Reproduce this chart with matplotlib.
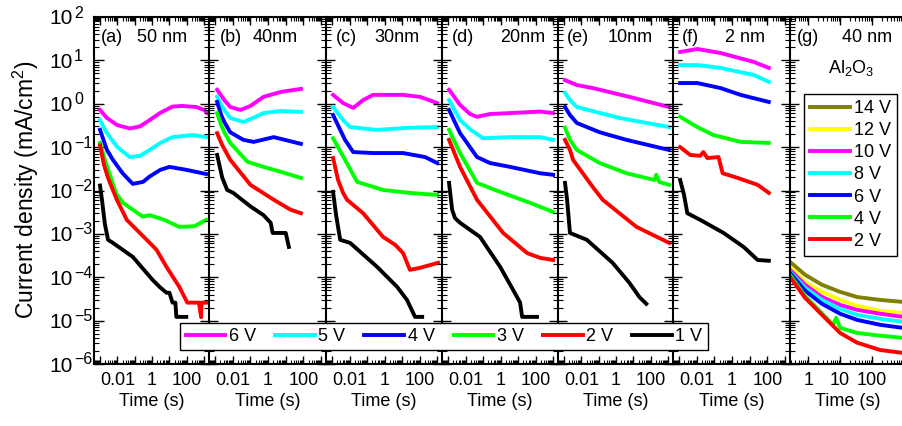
import numpy as np
import matplotlib
matplotlib.use("Agg")
import matplotlib.pyplot as plt
from matplotlib.ticker import LogLocator, NullFormatter, FixedLocator
from matplotlib.transforms import blended_transform_factory, offset_copy

plt.rcParams['font.family'] = ['Liberation Sans', 'DejaVu Sans']
plt.rcParams['mathtext.fontset'] = 'custom'
plt.rcParams['mathtext.rm'] = 'Liberation Sans'
plt.rcParams['mathtext.default'] = 'regular'

# ---- data: time (s) and current density (mA/cm2) ----
# (a) 50 nm
a6_t = [1e-3, 2.5e-3, 0.01, 0.052, 0.2, 0.72, 3, 15, 50, 350, 1000, 1500]
a6_j = [0.72, 0.47, 0.32, 0.27, 0.30, 0.42, 0.62, 0.86, 0.89, 0.84, 0.72, 0.61]
a5_t = [1e-3, 2.5e-3, 0.01, 0.052, 0.2, 0.72, 3, 15, 200, 1500]
a5_j = [0.42, 0.21, 0.10, 0.059, 0.063, 0.086, 0.125, 0.17, 0.19, 0.17]
a4_t = [1e-3, 2.5e-3, 5.5e-3, 0.02, 0.077, 0.3, 0.72, 3, 10, 93, 1300]
a4_j = [0.25, 0.086, 0.051, 0.025, 0.0142, 0.0158, 0.021, 0.03, 0.035, 0.03, 0.024]
a3_t = [1e-3, 1.9e-3, 3.7e-3, 8.2e-3, 0.021, 0.29, 0.72, 5.2, 37, 270, 1300]
a3_j = [0.125, 0.051, 0.023, 0.0088, 0.0052, 0.0025, 0.0027, 0.0021, 0.00145, 0.0015, 0.0021]
a2_t = [1e-3, 1.7e-3, 2.9e-3, 5.5e-3, 9.4e-3, 0.035, 0.13, 0.49, 1.8, 6.7, 37, 107,
        500, 670, 700, 880, 1500]
a2_j = [0.11, 0.039, 0.0195, 0.0103, 0.0061, 0.0021, 0.00124, 7.3e-4, 4.3e-4, 1.74e-4,
        6e-5, 2.6e-5, 2.6e-5, 1.2e-5, 2.6e-5, 2.6e-5, 2.6e-5]
a1_t = [1e-3, 1.3e-3, 1.9e-3, 2.9e-3, 5.5e-3, 0.077, 1.07, 2.7, 6.7, 10, 15, 22, 25, 93]
a1_j = [0.013, 0.006, 0.0017, 7.3e-4, 6.2e-4, 2.95e-4, 8.7e-5, 6e-5, 4.4e-5, 4.4e-5,
        2.6e-5, 2.6e-5, 1.22e-5, 1.22e-5]

# (b) 40 nm
b6_t = [1.3e-3, 2.2e-3, 3.3e-3, 7.2e-3, 0.027, 0.1, 0.55, 5.2, 72]
b6_j = [2.1, 1.55, 1.22, 0.84, 0.72, 0.89, 1.44, 1.87, 2.2]
b5_t = [1.3e-3, 2.2e-3, 3.3e-3, 7.2e-3, 0.04, 0.2, 0.55, 5.2, 72]
b5_j = [1.44, 0.95, 0.72, 0.47, 0.38, 0.5, 0.61, 0.68, 0.65]
b4_t = [1.3e-3, 2.2e-3, 3.3e-3, 7.2e-3, 0.04, 0.15, 2.1, 72]
b4_j = [1.1, 0.55, 0.38, 0.22, 0.147, 0.132, 0.17, 0.119]
b3_t = [1.3e-3, 2.2e-3, 3.3e-3, 7.2e-3, 0.067, 0.55, 5.2, 72]
b3_j = [0.61, 0.32, 0.22, 0.125, 0.046, 0.035, 0.027, 0.0195]
b2_t = [1.3e-3, 2.5e-3, 7.2e-3, 0.1, 2.1, 19, 72]
b2_j = [0.21, 0.112, 0.051, 0.0135, 0.0061, 0.0036, 0.003]
b1_t = [1.3e-3, 2.5e-3, 4.8e-3, 0.0107, 0.1, 0.55, 1.4, 1.8, 10, 15]
b1_j = [0.066, 0.02, 0.0103, 0.0088, 0.0043, 0.0027, 0.0018, 0.00105, 0.00105, 5e-4]

# (c) 30 nm
c6_t = [1.14e-3, 4.25e-3, 0.016, 0.06, 0.22, 11.4, 107, 1000]
c6_j = [1.6, 1.04, 0.80, 1.22, 1.6, 1.6, 1.44, 1.04]
c5_t = [1.14e-3, 4.25e-3, 0.0107, 0.37, 28, 1000]
c5_j = [0.84, 0.42, 0.29, 0.25, 0.28, 0.29]
c4_t = [1.14e-3, 5.5e-3, 0.016, 0.22, 11.4, 207, 1000]
c4_j = [0.55, 0.147, 0.077, 0.073, 0.073, 0.059, 0.043]
c3_t = [1.14e-3, 5.5e-3, 0.027, 0.82, 28, 1000]
c3_j = [0.16, 0.051, 0.0158, 0.0103, 0.0088, 0.0079]
c2_t = [1.14e-3, 2.2e-3, 4.25e-3, 7.2e-3, 0.059, 0.82, 4, 11.4, 28, 107, 1140]
c2_j = [0.056, 0.0175, 0.0088, 0.0061, 0.003, 8.5e-4, 5.6e-4, 3.6e-4, 1.48e-4, 1.65e-4, 2.15e-4]
c1_t = [1.14e-3, 1.7e-3, 2.9e-3, 0.0107, 0.37, 5.2, 19, 55, 140]
c1_j = [0.0093, 0.0027, 7.3e-4, 6.2e-4, 1.74e-4, 6e-5, 3e-5, 1.22e-5, 1.22e-5]

# (d) 20 nm
d6_t = [1.14e-3, 4.85e-3, 0.018, 0.045, 0.25, 3.5, 180, 1000]
d6_j = [2.1, 0.94, 0.58, 0.5, 0.58, 0.61, 0.66, 0.61]
d5_t = [1.14e-3, 4.85e-3, 0.02, 0.1, 3.5, 180, 1000]
d5_j = [1.22, 0.42, 0.25, 0.16, 0.17, 0.17, 0.147]
d4_t = [1.14e-3, 4.85e-3, 0.045, 0.25, 3.5, 180, 1000]
d4_j = [0.72, 0.21, 0.059, 0.043, 0.035, 0.025, 0.023]
d3_t = [1.14e-3, 4.85e-3, 0.045, 0.94, 48, 1000]
d3_j = [0.25, 0.073, 0.015, 0.0093, 0.0052, 0.0032]
d2_t = [1.14e-3, 4.85e-3, 0.045, 1.4, 33, 180, 1000]
d2_j = [0.147, 0.035, 0.0061, 0.00105, 3.6e-4, 2.8e-4, 2.5e-4]
d1_t = [1.14e-3, 1.7e-3, 2.5e-3, 4.85e-3, 0.067, 0.94, 5.2, 13, 17, 120]
d1_j = [0.015, 0.0036, 0.0023, 0.0018, 8.5e-4, 1.74e-4, 5.1e-5, 2.6e-5, 1.22e-5, 1.22e-5]

# (e) 10 nm
e6_t = [1.14e-3, 5.5e-3, 0.045, 5.9, 1140]
e6_j = [3.5, 2.7, 2.3, 1.44, 0.84]
e5_t = [1.14e-3, 2.2e-3, 5.5e-3, 1.58, 1140]
e5_j = [1.77, 1.22, 0.84, 0.47, 0.29]
e4_t = [1.14e-3, 2.2e-3, 5.5e-3, 0.114, 3.96, 1140]
e4_j = [0.84, 0.55, 0.36, 0.22, 0.147, 0.086]
e3_t = [1.14e-3, 2.2e-3, 5.5e-3, 0.114, 3.96, 160, 207, 305, 1140]
e3_j = [0.28, 0.147, 0.086, 0.043, 0.025, 0.0175, 0.023, 0.0158, 0.0135]
e2_t = [1.14e-3, 2.2e-3, 3.3e-3, 0.045, 0.17, 15, 1140]
e2_j = [0.147, 0.086, 0.051, 0.0121, 0.0061, 0.00145, 6.2e-4]
e1_t = [1.14e-3, 1.5e-3, 2.2e-3, 0.0206, 0.63, 5.9, 22, 55]
e1_j = [0.015, 0.0061, 0.00105, 7.3e-4, 2.15e-4, 7.4e-5, 3.5e-5, 2.44e-5]

# (f) 2 nm
f6_t = [1.14e-3, 0.0107, 0.22, 17, 120]
f6_j = [15.6, 18.3, 14.8, 9.2, 6.7]
f5_t = [1.14e-3, 0.0107, 0.22, 17, 120]
f5_j = [7.8, 7.8, 6.7, 4.6, 3.2]
f4_t = [1.14e-3, 0.0107, 0.22, 3.06, 120]
f4_j = [3.0, 3.0, 2.3, 1.6, 1.1]
f3_t = [1.14e-3, 0.0107, 0.088, 3.06, 120]
f3_j = [0.5, 0.29, 0.19, 0.132, 0.125]
f2_t = [1.14e-3, 4.25e-3, 0.0158, 0.0235, 0.04, 0.17, 0.29, 2.06, 28, 120]
f2_j = [0.1, 0.066, 0.063, 0.077, 0.056, 0.059, 0.025, 0.0195, 0.0135, 0.0088]
f1_t = [1.14e-3, 1.9e-3, 2.9e-3, 0.0158, 0.33, 4.5, 28, 120]
f1_j = [0.0175, 0.0079, 0.003, 0.0021, 0.00105, 5e-4, 2.5e-4, 2.4e-4]

# (g) 40 nm Al2O3
g_t = [0.27, 0.8, 2.7, 10, 34, 180, 930]
g14_j = [2.26e-4, 1.14e-4, 6.7e-5, 4.6e-5, 3.5e-5, 3.0e-5, 2.7e-5]
g12_j = [1.74e-4, 7.8e-5, 4.6e-5, 3.0e-5, 2.2e-5, 1.68e-5, 1.51e-5]
g10_j = [1.48e-4, 6.7e-5, 3.5e-5, 2.3e-5, 1.77e-5, 1.44e-5, 1.22e-5]
g8_j = [1.33e-4, 5.7e-5, 3.0e-5, 1.87e-5, 1.36e-5, 1.1e-5, 9.4e-6]
g6_j = [1.26e-4, 4.9e-5, 2.44e-5, 1.44e-5, 1.04e-5, 8.0e-6, 6.8e-6]
g4_t = [0.27, 0.8, 2.4, 6, 7.5, 10, 34, 180, 930]
g4_j = [1.14e-4, 3.7e-5, 1.6e-5, 8.0e-6, 1.16e-5, 6.8e-6, 5.2e-6, 4.5e-6, 4.0e-6]
g2_j = [1.02e-4, 3.35e-5, 1.36e-5, 5.2e-6, 3.1e-6, 2.1e-6, 1.8e-6]

volt_labels = ['6 V', '5 V', '4 V', '3 V', '2 V', '1 V']
volt_colors = ['#ff00ff', '#00ffff', '#0000ff', '#00ff00', '#ff0000', '#000000']
g_labels = ['14 V', '12 V', '10 V', '8 V', '6 V', '4 V', '2 V']
g_colors = ['#808000', '#ffff00', '#ff00ff', '#00ffff', '#0000ff', '#00ff00', '#ff0000']

panel_tags = ['(a)', '(b)', '(c)', '(d)', '(e)', '(f)', '(g)']
panel_thick = ['50 nm', '40nm', '30nm', '20nm', '10nm', '2 nm', '40 nm']
y_exponents = [-6, -5, -4, -3, -2, -1, 0, 1, 2]

panel_series = [
    [(a6_t, a6_j), (a5_t, a5_j), (a4_t, a4_j), (a3_t, a3_j), (a2_t, a2_j), (a1_t, a1_j)],
    [(b6_t, b6_j), (b5_t, b5_j), (b4_t, b4_j), (b3_t, b3_j), (b2_t, b2_j), (b1_t, b1_j)],
    [(c6_t, c6_j), (c5_t, c5_j), (c4_t, c4_j), (c3_t, c3_j), (c2_t, c2_j), (c1_t, c1_j)],
    [(d6_t, d6_j), (d5_t, d5_j), (d4_t, d4_j), (d3_t, d3_j), (d2_t, d2_j), (d1_t, d1_j)],
    [(e6_t, e6_j), (e5_t, e5_j), (e4_t, e4_j), (e3_t, e3_j), (e2_t, e2_j), (e1_t, e1_j)],
    [(f6_t, f6_j), (f5_t, f5_j), (f4_t, f4_j), (f3_t, f3_j), (f2_t, f2_j), (f1_t, f1_j)],
]
g_series = [(g_t, g14_j), (g_t, g12_j), (g_t, g10_j), (g_t, g8_j), (g_t, g6_j),
            (g4_t, g4_j), (g_t, g2_j)]

# ---- layout (pixel edges of the panels) ----
W, H = 903, 426
edges = [94, 209, 326, 442, 558, 673, 790, 905]
y_top, y_bot = 17, 364
tag_x = [0.06, 0.094, 0.086, 0.086, 0.078, 0.078, 0.06]
thick_x = [0.809, 0.761, 0.81, 0.888, 0.826, 0.786, 0.885]

fig = plt.figure(figsize=(W / 100, H / 100), dpi=100)
lw = 2.8
axes = []
for i in range(7):
    x0, x1 = edges[i], edges[i + 1]
    ax = fig.add_axes([x0 / W, (H - y_bot) / H, (x1 - x0) / W, (y_bot - y_top) / H])
    ax.set_facecolor('none')
    ax.set_xscale('log')
    ax.set_yscale('log')
    ax.set_ylim(1e-6, 1e2)
    for sp in ax.spines.values():
        sp.set_linewidth(1.5)
    ax.spines['right'].set_visible(False)

    if i < 6:
        ax.set_xlim(4.5e-4, 1900)
        ax.xaxis.set_major_locator(FixedLocator([1e-3, 1e-2, 1e-1, 1, 10, 100, 1000]))
        ax.set_xticklabels(['', '0.01', '', '1', '', '100', ''])
        for (t, j), c in zip(panel_series[i], volt_colors):
            ax.plot(t, j, color=c, lw=lw, solid_joinstyle='round')
    else:
        ax.set_xlim(0.27, 1070)
        ax.xaxis.set_major_locator(FixedLocator([1, 10, 100, 1000]))
        ax.set_xticklabels(['1', '10', '100', ''])
        for (t, j), c, lab in zip(g_series, g_colors, g_labels):
            ax.plot(t, j, color=c, lw=lw, label=lab)
    ax.xaxis.set_minor_locator(LogLocator(base=10, subs=np.arange(2, 10), numticks=100))
    ax.xaxis.set_minor_formatter(NullFormatter())

    ax.set_yticks([10.0 ** k for k in y_exponents])
    ax.yaxis.set_minor_locator(LogLocator(base=10, subs=np.arange(2, 10), numticks=100))
    ax.yaxis.set_minor_formatter(NullFormatter())

    ax.tick_params(axis='x', which='both', direction='in', top=True, bottom=True,
                   labelsize=13, pad=6)
    ax.tick_params(axis='x', which='major', length=6, width=1.0)
    ax.tick_params(axis='x', which='minor', length=3, width=0.8)
    if i == 0:
        ax.tick_params(axis='y', which='both', direction='in', right=False, labelleft=False)
        ax.tick_params(axis='y', which='major', length=7, width=1.0)
        ax.tick_params(axis='y', which='minor', length=3.5, width=0.8)
    else:
        ax.tick_params(axis='y', which='both', direction='inout', right=False, labelleft=False)
        ax.tick_params(axis='y', which='major', length=13, width=1.0)
        ax.tick_params(axis='y', which='minor', length=7, width=0.8)
    ax.set_xlabel('Time (s)', fontsize=13, labelpad=3)

    yt = (y_bot - 38) / (y_bot - y_top)
    ax.text(tag_x[i], yt, panel_tags[i], transform=ax.transAxes, fontsize=13,
            ha='left', va='center')
    ax.text(thick_x[i], yt, panel_thick[i], transform=ax.transAxes, fontsize=13,
            ha='right', va='center')
    axes.append(ax)

# y tick labels of panel (a): "10" with a raised exponent
ax = axes[0]
trans = blended_transform_factory(fig.transFigure, ax.transData)
for k in y_exponents:
    base_tr = offset_copy(trans, fig=fig, x=0, y=-7.5 * 0.72, units='points')
    ax.text(72.5 / W, 10.0 ** k, '10', transform=base_tr, fontsize=15,
            ha='right', va='baseline', clip_on=False)
    exp_tr = offset_copy(trans, fig=fig, x=0, y=-0.5 * 0.72, units='points')
    ax.text(74 / W, 10.0 ** k, str(k).replace('-', '\u2212'), transform=exp_tr,
            fontsize=11.5, ha='left', va='baseline', clip_on=False)

fig.text(26 / W, (H - 190) / H, 'Current density (mA/cm$^2$)', rotation=90,
         fontsize=16.5, ha='center', va='center')

axes[6].text(0.53, (y_bot - 68) / (y_bot - y_top), 'Al$_2$O$_3$',
             transform=axes[6].transAxes, fontsize=13, ha='center', va='center')

# legends
leg_g = axes[6].legend(loc='upper left', bbox_to_anchor=(804 / W, (H - 94) / H),
                       bbox_transform=fig.transFigure, fontsize=13, frameon=True,
                       fancybox=False, edgecolor='black', framealpha=1,
                       handlelength=2.2, handletextpad=0.2, labelspacing=0.28,
                       borderpad=0.35, borderaxespad=0)
leg_g.get_frame().set_linewidth(1.0)

handles = axes[0].get_lines()[:6]
leg = fig.legend(handles, volt_labels, ncol=6, loc='center',
                 bbox_to_anchor=(444 / W, (H - 336.5) / H), fontsize=13,
                 frameon=True, fancybox=False, edgecolor='black', framealpha=1,
                 handlelength=2.2, handletextpad=0.2, columnspacing=1.05,
                 borderpad=0.3)
leg.get_frame().set_linewidth(1.0)

fig.savefig('out.png', dpi=100)
